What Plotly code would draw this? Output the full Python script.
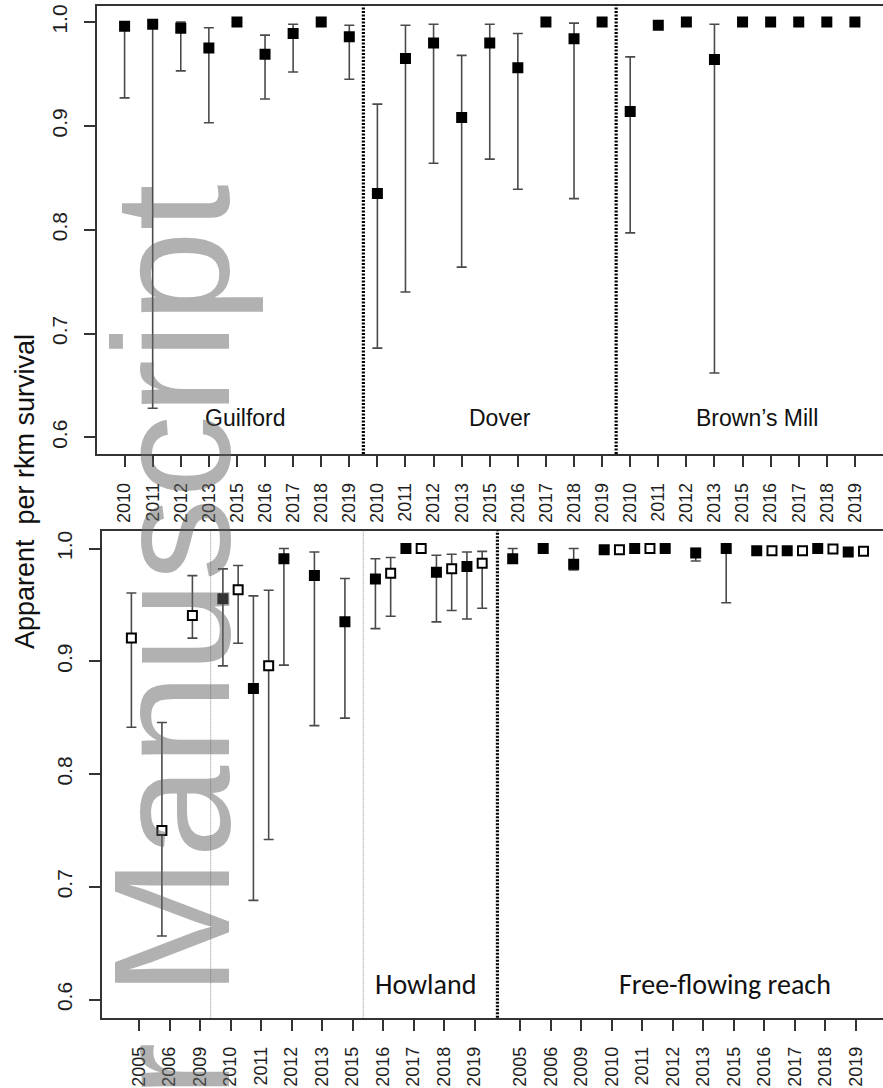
import plotly.graph_objects as go

W, H = 883, 1088

# ---------------- data ----------------
top_years = ["2010", "2011", "2012", "2013", "2015", "2016", "2017", "2018", "2019"]
top_sites = ["Guilford", "Dover", "Brown\u2019s Mill"]

guilford_est = [0.996, 0.998, 0.994, 0.975, 1.000, 0.969, 0.989, 1.000, 0.986]
guilford_lo = [0.927, 0.628, 0.953, 0.903, None, 0.926, 0.952, None, 0.945]
guilford_hi = [1.000, 1.000, 1.000, 0.9945, None, 0.9875, 0.998, None, 0.997]

dover_est = [0.835, 0.965, 0.980, 0.908, 0.980, 0.956, 1.000, 0.984, 1.000]
dover_lo = [0.686, 0.740, 0.864, 0.764, 0.868, 0.839, None, 0.830, None]
dover_hi = [0.921, 0.997, 0.998, 0.968, 0.998, 0.989, None, 0.999, None]

brownsmill_est = [0.914, 0.997, 1.000, 0.964, 1.000, 1.000, 1.000, 1.000, 1.000]
brownsmill_lo = [0.797, None, None, 0.662, None, None, None, None, None]
brownsmill_hi = [0.9665, None, None, 0.998, None, None, None, None, None]

bottom_years = ["2005", "2006", "2009", "2010", "2011", "2012", "2013",
                "2015", "2016", "2017", "2018", "2019"]
bottom_sites = ["Howland", "Free-flowing reach"]

# Howland, filled squares
howland_f_years = ["2010", "2011", "2012", "2013", "2015", "2016", "2017", "2018", "2019"]
howland_f_est = [0.9555, 0.876, 0.991, 0.976, 0.935, 0.973, 1.000, 0.979, 0.984]
howland_f_lo = [0.896, 0.688, 0.8966, 0.843, 0.8496, 0.929, None, 0.935, 0.9375]
howland_f_hi = [0.982, 0.958, 1.000, 0.997, 0.9735, 0.991, None, 0.994, 0.997]

# Howland, open squares
howland_o_years = ["2005", "2006", "2009", "2010", "2011", "2016", "2017", "2018", "2019"]
howland_o_est = [0.9206, 0.750, 0.9407, 0.9635, 0.896, 0.978, 1.000, 0.982, 0.987]
howland_o_lo = [0.8416, 0.6565, 0.9206, 0.916, 0.742, 0.940, None, 0.945, 0.947]
howland_o_hi = [0.9606, 0.8457, 0.976, 0.985, 0.963, 0.992, None, 0.995, 0.9975]

# Free-flowing reach, filled squares
free_f_years = ["2005", "2006", "2009", "2010", "2011", "2012", "2013",
                "2015", "2016", "2017", "2018", "2019"]
free_f_est = [0.991, 1.000, 0.986, 0.999, 1.000, 1.000, 0.996, 1.000, 0.998, 0.998, 1.000, 0.997]
free_f_lo = [0.987, None, 0.981, None, None, None, 0.989, 0.952, None, None, None, None]
free_f_hi = [1.000, None, 1.000, None, None, None, 1.000, 1.000, None, None, None, None]

# Free-flowing reach, open squares
free_o_years = ["2010", "2011", "2016", "2017", "2018", "2019"]
free_o_est = [0.999, 1.000, 0.998, 0.998, 0.9995, 0.9975]

y_ticks = [0.6, 0.7, 0.8, 0.9, 1.0]
y_ticktext = ["0.6", "0.7", "0.8", "0.9", "1.0"]

# ---------------- styling ----------------
AX = "#333333"
TXT = "#1e1e1e"
ERR = "#4a4a4a"
TICKFONT = "Liberation Sans, Arial, sans-serif"
LBLFONT = "Carlito, Lato, Open Sans, sans-serif"


def px_x(x):
    return x / W


def px_y(y):
    return 1 - y / H


fig = go.Figure()


def add_series(xs, est, lo, hi, xa, ya, symbol, size, fill, lw):
    # error bars first (only for points that have an interval)
    ex, ey, up, dn = [], [], [], []
    for x, e, l, h in zip(xs, est, lo, hi):
        if l is None or h is None:
            continue
        ex.append(x)
        ey.append(e)
        up.append(h - e)
        dn.append(e - l)
    if ex:
        fig.add_trace(go.Scatter(
            x=ex, y=ey, mode="markers", xaxis=xa, yaxis=ya,
            marker=dict(size=2, opacity=0),
            error_y=dict(type="data", symmetric=False, array=up, arrayminus=dn,
                         color=ERR, thickness=1.6, width=5),
            hoverinfo="skip", showlegend=False))
    return dict(x=xs, y=est, xa=xa, ya=ya, symbol=symbol, size=size, fill=fill, lw=lw)


marker_layers = []

# top panel
top_data = [(guilford_est, guilford_lo, guilford_hi),
            (dover_est, dover_lo, dover_hi),
            (brownsmill_est, brownsmill_lo, brownsmill_hi)]
for s, (est, lo, hi) in enumerate(top_data):
    xs = [1 + 9 * s + j for j in range(len(top_years))]
    marker_layers.append(add_series(xs, est, lo, hi, "x", "y", "square", 11, "black", 0))

# bottom panel
FF_OFFSET = 12.5


def bottom_pos(site, year):
    base = 0 if site == 0 else FF_OFFSET
    return base + bottom_years.index(year)


def slot_positions(site, years, partner_years, first):
    out = []
    for y in years:
        if first or y not in partner_years:
            out.append(bottom_pos(site, y) - 0.25)
        else:
            out.append(bottom_pos(site, y) + 0.25)
    return out


hf_x = slot_positions(0, howland_f_years, howland_o_years, True)
ho_x = slot_positions(0, howland_o_years, howland_f_years, False)
ff_x = slot_positions(1, free_f_years, free_o_years, True)
fo_x = slot_positions(1, free_o_years, free_f_years, False)

marker_layers.append(add_series(hf_x, howland_f_est, howland_f_lo, howland_f_hi,
                                "x2", "y2", "square", 11, "black", 0))
marker_layers.append(add_series(ho_x, howland_o_est, howland_o_lo, howland_o_hi,
                                "x2", "y2", "square", 9, "white", 2))
marker_layers.append(add_series(ff_x, free_f_est, free_f_lo, free_f_hi,
                                "x2", "y2", "square", 11, "black", 0))
marker_layers.append(add_series(fo_x, free_o_est, [None] * len(free_o_est),
                                [None] * len(free_o_est), "x2", "y2", "square", 9, "white", 2))

for m in marker_layers:
    fig.add_trace(go.Scatter(
        x=m["x"], y=m["y"], mode="markers", xaxis=m["xa"], yaxis=m["ya"],
        marker=dict(symbol=m["symbol"], size=m["size"], color=m["fill"],
                    line=dict(color="black", width=m["lw"])),
        hoverinfo="skip", showlegend=False))

# ---------------- axes ----------------
top_tickvals = [1 + 9 * s + j for s in range(3) for j in range(len(top_years))]
top_ticktext = top_years * 3
bot_tickvals = [bottom_pos(s, y) for s in range(2) for y in bottom_years]
bot_ticktext = bottom_years * 2

common_x = dict(ticks="outside", ticklen=11, tickwidth=1.5, tickcolor=AX,
                showline=True, linecolor=AX, linewidth=1.6, mirror=True,
                showgrid=False, zeroline=False, tickangle=-90,
                ticklabelstandoff=9,
                tickfont=dict(family=TICKFONT, size=18, color=TXT),
                automargin=False, fixedrange=True)
common_y = dict(ticks="outside", ticklen=11, tickwidth=1.5, tickcolor=AX,
                showline=True, linecolor=AX, linewidth=1.6, mirror=False,
                showgrid=False, zeroline=False, tickangle=-90,
                ticklabelstandoff=8,
                tickvals=y_ticks, ticktext=y_ticktext, range=[0.584, 1.016],
                tickfont=dict(family=TICKFONT, size=21, color=TXT),
                automargin=False, fixedrange=True)

fig.update_layout(
    width=W, height=H, autosize=False,
    margin=dict(l=0, r=0, t=0, b=0),
    paper_bgcolor="white", plot_bgcolor="white",
    showlegend=False,
    xaxis=dict(common_x, domain=[px_x(96.5), 1.0], range=[0, 28],
               tickvals=top_tickvals, ticktext=top_ticktext, anchor="y"),
    yaxis=dict(common_y, domain=[px_y(454), px_y(5.5)], anchor="x"),
    xaxis2=dict(common_x, domain=[px_x(101.5), 1.0], range=[-1.23, 24.39],
                tickvals=bot_tickvals, ticktext=bot_ticktext, anchor="y2"),
    yaxis2=dict(common_y, domain=[px_y(1017.7), px_y(530.5)], anchor="x2"),
)

# ---------------- divider lines ----------------
shapes = []
for xv in [9.5, 18.5]:
    shapes.append(dict(type="line", xref="x", yref="y domain", x0=xv, x1=xv, y0=0, y1=1,
                       line=dict(color="black", width=3.2, dash="2px,1.5px")))
shapes.append(dict(type="line", xref="x2", yref="y2 domain", x0=11.75, x1=11.75, y0=0, y1=1,
                   line=dict(color="black", width=3.2, dash="2px,1.5px")))
for xv in [2.35, 7.35]:
    shapes.append(dict(type="line", xref="x2", yref="y2 domain", x0=xv, x1=xv, y0=0, y1=1,
                       line=dict(color="#8c8c8c", width=1, dash="1px,1px")))
fig.update_layout(shapes=shapes)

# ---------------- text ----------------
ann = []
for name, xv in zip(top_sites, [5.3, 14.35, 23.5]):
    ann.append(dict(text=name, x=xv, y=0.619, xref="x", yref="y", showarrow=False,
                    xanchor="center", yanchor="middle",
                    font=dict(family=TICKFONT, size=23, color="#111")))
for name, xv in zip(bottom_sites, [9.4, 19.2]):
    ann.append(dict(text=name, x=xv, y=0.613, xref="x2", yref="y2", showarrow=False,
                    xanchor="center", yanchor="middle",
                    font=dict(family=LBLFONT, size=28, color="#111")))
ann.append(dict(text="Apparent&nbsp; per rkm survival", x=px_x(25), y=px_y(492),
                xref="paper", yref="paper", showarrow=False, textangle=-90,
                xanchor="center", yanchor="middle",
                font=dict(family=TICKFONT, size=27, color="#111")))
# watermark
ann.append(dict(text="Author Manuscript", x=px_x(170.5), y=px_y(858),
                xref="paper", yref="paper", showarrow=False, textangle=-90,
                xanchor="center", yanchor="middle",
                font=dict(family=TICKFONT, size=166, color="rgba(100,100,100,0.5)")))
fig.update_layout(annotations=ann)

fig.write_html("out.html")
